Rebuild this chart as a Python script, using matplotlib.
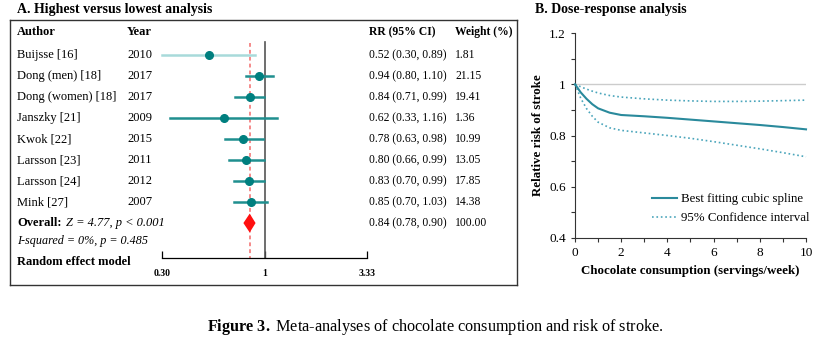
import numpy as np
import matplotlib
matplotlib.use("Agg")
import matplotlib.pyplot as plt
from matplotlib.lines import Line2D
from matplotlib.transforms import blended_transform_factory

plt.rcParams['font.family'] = ['Liberation Serif', 'DejaVu Serif']
plt.rcParams['mathtext.fontset'] = 'custom'
plt.rcParams['mathtext.rm'] = 'Liberation Serif'
plt.rcParams['mathtext.it'] = 'Liberation Serif:italic'
plt.rcParams['mathtext.bf'] = 'Liberation Serif:bold'

# --- forest plot data (highest vs lowest) ---
authors = ["Buijsse [16]", "Dong (men) [18]", "Dong (women) [18]", "Janszky [21]",
           "Kwok [22]", "Larsson [23]", "Larsson [24]", "Mink [27]"]
years = ["2010", "2017", "2017", "2009", "2015", "2011", "2012", "2007"]
rr = [0.52, 0.94, 0.84, 0.62, 0.78, 0.80, 0.83, 0.85]
ci_low = [0.30, 0.80, 0.71, 0.33, 0.63, 0.66, 0.70, 0.70]
ci_high = [0.89, 1.10, 0.99, 1.16, 0.98, 0.99, 0.99, 1.03]
weights = ["1.81", "21.15", "19.41", "1.36", "10.99", "13.05", "17.85", "14.38"]
overall_rr, overall_low, overall_high = 0.84, 0.78, 0.90
overall_weight = "100.00"
forest_ticks = [0.30, 1, 3.33]
forest_ticklabels = ["0.30", "1", "3.33"]

# --- dose-response data ---
servings = [0, 0.25, 0.5, 0.75, 1, 1.5, 2, 3, 4, 5, 6, 7, 8, 9, 10]
rr_fit = [1.0, 0.968, 0.943, 0.922, 0.906, 0.889, 0.880, 0.875, 0.869, 0.862,
          0.855, 0.848, 0.841, 0.833, 0.824]
rr_upper = [1.0, 0.990, 0.981, 0.973, 0.966, 0.956, 0.950, 0.943, 0.938, 0.935,
            0.933, 0.933, 0.934, 0.936, 0.938]
rr_lower = [1.0, 0.945, 0.905, 0.875, 0.852, 0.830, 0.820, 0.810, 0.800, 0.789,
            0.776, 0.762, 0.748, 0.733, 0.717]

W, H = 820, 340
fig = plt.figure(figsize=(W / 100, H / 100), dpi=100)


def px_axes(x0, y0, x1, y1):
    # rectangle given in pixels from the top-left corner
    return fig.add_axes([x0 / W, 1 - y1 / H, (x1 - x0) / W, (y1 - y0) / H])


teal = "#007f7f"
teal_line = "#1f8f8f"

# ---------------- Panel A ----------------
box = px_axes(10, 20, 517, 285)
box.set_xticks([])
box.set_yticks([])
for s in box.spines.values():
    s.set_color("#333333")
    s.set_linewidth(1.0)

fp = px_axes(162, 20, 367, 285)
fp.patch.set_visible(False)
fp.set_xscale("log")
fp.set_xlim(0.30, 3.33)
fp.set_ylim(11.95, -0.667)
for side in ["top", "left", "right"]:
    fp.spines[side].set_visible(False)
fp.spines["bottom"].set_position(("data", 10.67))
fp.spines["bottom"].set_bounds(0.30, 3.33)
fp.spines["bottom"].set_linewidth(0.9)
fp.set_yticks([])
fp.xaxis.set_minor_locator(matplotlib.ticker.NullLocator())
fp.set_xticks(forest_ticks)
fp.set_xticklabels(forest_ticklabels, fontsize=7, fontweight="bold")
fp.tick_params(axis="x", direction="in", length=5, width=0.9, pad=8)

rows = np.arange(1, len(authors) + 1)
fp.plot([1, 1], [0.38, 10.67], color="#555555", lw=1.2, zorder=2)
fp.plot([overall_rr, overall_rr], [0.45, 10.67], color="#f26b6b", lw=1.1,
        ls=(0, (2.5, 2)), zorder=1)
for i, r in enumerate(rows):
    c = "#a8dada" if i == 0 else teal_line
    fp.plot([ci_low[i], ci_high[i]], [r, r], color=c, lw=1.8, clip_on=False, zorder=3)
fp.plot(rr, rows, "o", color=teal, ms=5.5, zorder=4, clip_on=False)
fp.fill([overall_low, overall_rr, overall_high, overall_rr],
        [9, 8.55, 9, 9.45], color="#ff1010", zorder=4, lw=0)

tr = blended_transform_factory(box.transAxes, fp.transData)


def bx(px):
    return (px - 10) / 507


fs = 9.0
fs_num = 8.4
hdr_y = -0.1
box.text(bx(17), hdr_y, "Author", transform=tr, fontsize=fs, fontweight="bold", va="center")
box.text(bx(127), hdr_y, "Year", transform=tr, fontsize=fs, fontweight="bold", va="center")
box.text(bx(369), hdr_y, "RR (95% CI)", transform=tr, fontsize=fs_num, fontweight="bold",
         va="center")
box.text(bx(455), hdr_y, "Weight (%)", transform=tr, fontsize=fs_num, fontweight="bold",
         va="center")
for i, r in enumerate(rows):
    box.text(bx(17), r, authors[i], transform=tr, fontsize=fs, va="center")
    box.text(bx(127), r, years[i], transform=tr, fontsize=fs, va="center")
    box.text(bx(369), r, f"{rr[i]:.2f} ({ci_low[i]:.2f}, {ci_high[i]:.2f})",
             transform=tr, fontsize=fs_num, va="center")
    box.text(bx(455), r, weights[i], transform=tr, fontsize=fs_num, va="center")
box.text(bx(17), 9, "Overall:", transform=tr, fontsize=fs, fontweight="bold", va="center")
box.text(bx(66), 9, "Z = 4.77, p < 0.001", transform=tr, fontsize=fs, va="center",
         style="italic")
box.text(bx(17), 9.85, "I-squared = 0%, p = 0.485", transform=tr, fontsize=fs - 0.3,
         va="center", style="italic")
box.text(bx(17), 10.85, "Random effect model", transform=tr, fontsize=fs,
         fontweight="bold", va="center")
box.text(bx(369), 9, f"{overall_rr:.2f} ({overall_low:.2f}, {overall_high:.2f})",
         transform=tr, fontsize=fs_num, va="center")
box.text(bx(455), 9, overall_weight, transform=tr, fontsize=fs_num, va="center")

fig.text(17 / W, 1 - 10 / H, "A. Highest versus lowest analysis", fontsize=10,
         fontweight="bold", va="center")

# ---------------- Panel B ----------------
ax = px_axes(575, 33, 806, 238)
ax.set_xlim(0, 10)
ax.set_ylim(0.4, 1.2)
ax.axhline(1, color="#cccccc", lw=1.0, zorder=1)
ax.plot(servings, rr_fit, color="#2a8a9c", lw=1.5, clip_on=False, zorder=3)
ax.plot(servings, rr_upper, color="#4aa5bb", lw=1.2, ls=":", clip_on=False, zorder=2)
ax.plot(servings, rr_lower, color="#4aa5bb", lw=1.2, ls=":", clip_on=False, zorder=2)
ax.spines["top"].set_visible(False)
ax.spines["right"].set_visible(False)
for s in ["left", "bottom"]:
    ax.spines[s].set_color("#333333")
ax.set_yticks([0.4, 0.6, 0.8, 1.0, 1.2])
ax.set_yticklabels(["0.4", "0.6", "0.8", "1", "1.2"])
ax.set_yticks(np.arange(0.5, 1.2, 0.2), minor=True)
ax.set_xticks([0, 2, 4, 6, 8, 10])
ax.set_xticks([1, 3, 5, 7, 9], minor=True)
ax.tick_params(which="both", direction="out", length=3, width=0.8, labelsize=9.5,
               color="#333333")
ax.set_xlabel("Chocolate consumption (servings/week)", fontsize=9.3, fontweight="bold")
ax.set_ylabel("Relative risk of stroke", fontsize=9.3, fontweight="bold")
handles = [Line2D([], [], color="#2a8a9c", lw=1.5),
           Line2D([], [], color="#4aa5bb", lw=1.2, ls=":")]
ax.legend(handles, ["Best fitting cubic spline", "95% Confidence interval"],
          loc="lower right", bbox_to_anchor=(1.065, 0.01), frameon=False,
          fontsize=9.3, handlelength=1.9, handletextpad=0.3, labelspacing=0.55)

fig.text(535 / W, 1 - 10 / H, "B. Dose-response analysis", fontsize=10,
         fontweight="bold", va="center")

# caption
fig.text(435 / W, 1 - 327 / H,
         r"$\mathbf{Figure\ 3.}$ Meta-analyses of chocolate consumption and risk of stroke.",
         fontsize=11.7, ha="center", va="center")

fig.savefig("out.png", dpi=100)
